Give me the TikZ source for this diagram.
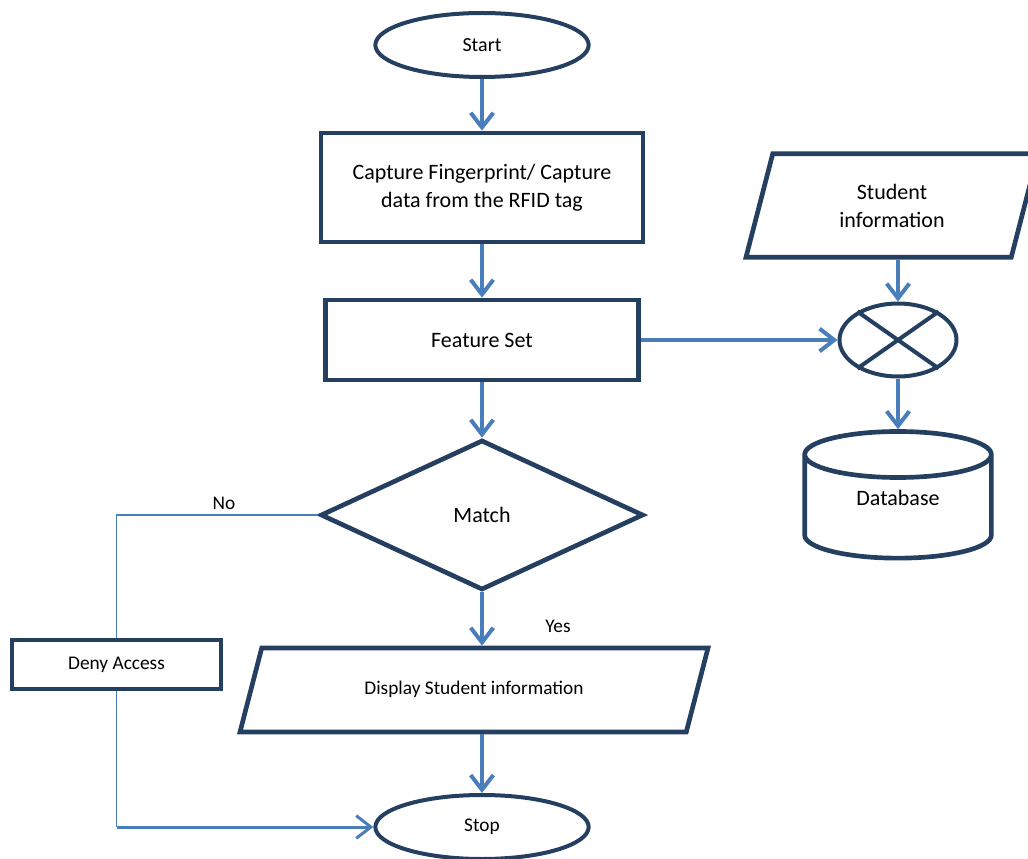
\documentclass[tikz,border=0pt]{standalone}
\usepackage{fontspec}
\setmainfont{Carlito}
\usetikzlibrary{shapes.geometric,arrows.meta}
\definecolor{boxline}{HTML}{243F60}
\definecolor{flowline}{HTML}{4A7EBB}
\begin{document}
\begin{tikzpicture}
[x=0.75pt,y=-0.75pt,%
  every node/.style={font=\fontsize{16.5}{21}\selectfont,align=center},%
  box/.style={draw=boxline,line width=3.5pt,rectangle},%
  term/.style={draw=boxline,line width=3pt,ellipse,font=\fontsize{15}{18}\selectfont},%
  io/.style={draw=boxline,line width=3.5pt,trapezium,trapezium left angle=75.5,
    trapezium right angle=104.5,trapezium stretches body=true},%
  smalltext/.style={font=\fontsize{14.5}{18}\selectfont},%
  flow/.style={draw=flowline,line width=3pt,-{Straight Barb[length=11pt,width=17pt]}},%
  thinflow/.style={draw=flowline,line width=1.1pt}]
\useasboundingbox (0,0) rectangle (1028,859);
\node[term,minimum width=160pt,minimum height=48pt] (start) at (482,45) {Start};
\node[box,minimum width=241.5pt,minimum height=81.75pt] (capture) at (482,187.5)
  {Capture Fingerprint/ Capture\\data from the RFID tag};
\node[box,minimum width=234.75pt,minimum height=60pt] (feature) at (482,340) {Feature Set};
\node[box,diamond,minimum width=242.25pt,minimum height=112.5pt,inner sep=0pt] (match) at (482,515) {Match};
\node[io,smalltext,text height=10pt,text depth=3pt,inner ysep=25pt,minimum width=351pt] (display) at (474,690)
  {Display Student information};
\node[term,font=\fontsize{14.5}{18}\selectfont,minimum width=160pt,minimum height=48pt] (stop) at (482,827) {Stop};
\node[box,smalltext,line width=3pt,minimum width=156.75pt,minimum height=36.75pt] (deny) at (116.5,664.5) {Deny Access};
\node[io,inner ysep=22.5pt,minimum width=219pt] (stuinfo) at (892,205.5) {Student\\information};
\node[draw=boxline,line width=3pt,ellipse,minimum width=87.75pt,minimum height=54.75pt] (mixer) at (898,340) {};
\node[draw=boxline,line width=3.5pt,cylinder,shape border rotate=90,aspect=0.5,
  minimum width=140pt,minimum height=95pt,text height=12pt,text depth=4pt] (database) at (898,511)
  {\raisebox{8pt}{Database}};
\node[smalltext] (no) at (224,503) {No};
\node[smalltext] (yes) at (558,626) {Yes};
\coordinate (bend) at (deny.south |- stop.west);

\draw[boxline,line width=3pt] (mixer.145) -- (mixer.-35) (mixer.35) -- (mixer.-145);
\draw[flow] (start.south) -- (capture.north);
\draw[flow] (capture.south) -- (feature.north);
\draw[flow] (feature.south) -- (match.north);
\draw[flow] (match.south) -- (match.south |- display.north);
\draw[flow] (stop.north |- display.south) -- (stop.north);
\draw[flow] (feature.east) -- (mixer.west);
\draw[flow] (mixer.north |- stuinfo.south) -- (mixer.north);
\draw[flow] (mixer.south) -- (database.north);
\draw[thinflow] (match.west) -| (deny.north);
\draw[thinflow] (deny.south) -- (bend);
\draw[flow,line width=2.25pt] (bend) -- (stop.west);
\end{tikzpicture}
\end{document}
